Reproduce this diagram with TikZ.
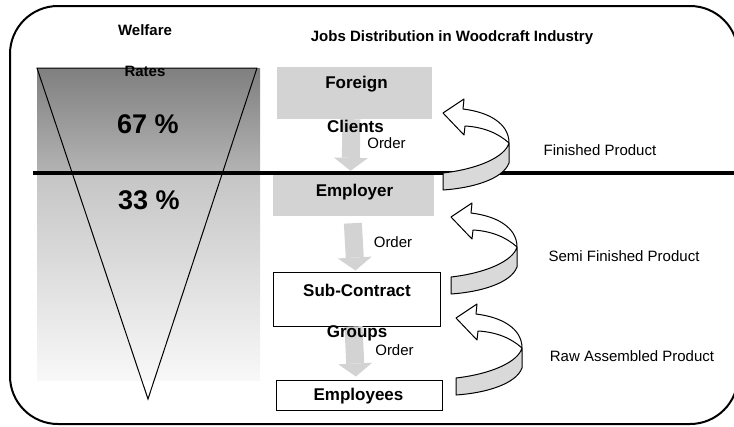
\documentclass[tikz,border=0pt]{standalone}
\usepackage{fontspec}
\setmainfont{Liberation Sans}
\usepackage{tikz}
\usetikzlibrary{arrows.meta}

\definecolor{boxgray}{HTML}{D3D3D3}
\definecolor{bandgray}{HTML}{D9D9D9}
\definecolor{shadetop}{HTML}{7F7F7F}
\definecolor{shademid}{HTML}{B4B4B4}
\definecolor{shadelow}{HTML}{C5C5C5}
\definecolor{shadeend}{HTML}{F8F8F8}

\tikzset{
  lbl/.style={inner sep=0pt, font=\fontsize{15}{18}\selectfont},
  blbl/.style={inner sep=0pt, font=\fontsize{15}{18}\selectfont\bfseries},
  boxlbl/.style={inner sep=0pt, font=\fontsize{17}{20}\selectfont\bfseries},
  pct/.style={inner sep=0pt, font=\fontsize{27}{30}\selectfont\bfseries},
  graybox/.style={fill=boxgray, draw=none, inner sep=0pt},
  whitebox/.style={draw, line width=1pt, fill=white, inner sep=0pt},
  flow/.style={boxgray, line width=18pt, -{Triangle[width=34pt 0, length=13pt 0, line width=0pt 0]}},
  curlarrow/.pic={
    \filldraw[fill=bandgray, line width=1pt, line join=round]
      (0,60) .. controls (35,56) and (62,44) .. (66,30) -- (66,50)
      .. controls (60,66) and (30,75) .. (0,77) -- cycle;
    \filldraw[fill=white, line width=1pt, line join=round]
      (0,0) -- (21,-14) -- (20,-4) .. controls (45,-1) and (66,10) .. (66,30)
      .. controls (55,20) and (40,14) .. (22,13) -- (21,22) -- cycle;
  }
}

\begin{document}
\begin{tikzpicture}[x=1pt, y=-1pt]
    \useasboundingbox (0,0) rectangle (734,426);
    \clip (0,0) rectangle (734,426);

    % frame
    \draw[line width=2pt, rounded corners=48pt] (10,6) rectangle (738,424);

    % welfare funnel
    \shade[top color=shadetop, bottom color=shademid] (37,68) rectangle (260,173);
    \shade[top color=shadelow, bottom color=shadeend] (37,173) rectangle (260,380);
    \draw[line width=1pt] (37,68) -- (257,68) -- (148,399) -- cycle;
    \draw[line width=3.5pt] (33,173) -- (734,173);

    \node[blbl] (welfare) at (145,30) {Welfare};
    \node[blbl] (rates) at (145,71) {Rates};
    \node[pct] (upper) at (148,124) {67 \%};
    \node[pct] (lower) at (149,200) {33 \%};

    \node[blbl] (title) at (452,38) {Jobs Distribution in Woodcraft Industry};

    % chain of jobs
    \node[graybox, minimum width=155pt, minimum height=52pt] (foreign) at (354.5,93) {};
    \node[graybox, minimum width=161pt, minimum height=41pt] (employer) at (353.5,195.5) {};
    \node[whitebox, minimum width=167pt, minimum height=54pt] (sub) at (356.5,299) {};
    \node[whitebox, minimum width=166pt, minimum height=30pt] (employees) at (359,395) {};

    \draw[flow, shorten >=4pt] ([xshift=-3pt]foreign.south) -- ([xshift=-3pt]employer.north);
    \draw[flow, shorten <=7pt, shorten >=1pt] ([xshift=-1pt]employer.south) -- ([xshift=-1pt]sub.north);
    \draw[flow, shorten >=3pt] ([xshift=-3pt]sub.south) -- ([xshift=-3pt]employees.north);

    \node[boxlbl] (foreigntxt) at (356.5,84.5) {Foreign};
    \node[boxlbl] (clients) at (355.5,126.5) {Clients};
    \node[boxlbl] (employertxt) at (354.5,192) {Employer};
    \node[boxlbl] (subtxt) at (357,290) {Sub-Contract};
    \node[boxlbl] (groups) at (357,333) {Groups};
    \node[boxlbl] (employeestxt) at (358.5,396) {Employees};

    \node[lbl] (order1) at (386.5,143) {Order};
    \node[lbl] (order2) at (393,242) {Order};
    \node[lbl] (order3) at (394.5,350) {Order};

    % products going back up
    \pic at (443,113) {curlarrow};
    \pic at (451,217) {curlarrow};
    \pic at (456,318) {curlarrow};

    \node[lbl] (finished) at (600,150) {Finished Product};
    \node[lbl] (semi) at (624,256) {Semi Finished Product};
    \node[lbl] (raw) at (632,356) {Raw Assembled Product};
\end{tikzpicture}
\end{document}
